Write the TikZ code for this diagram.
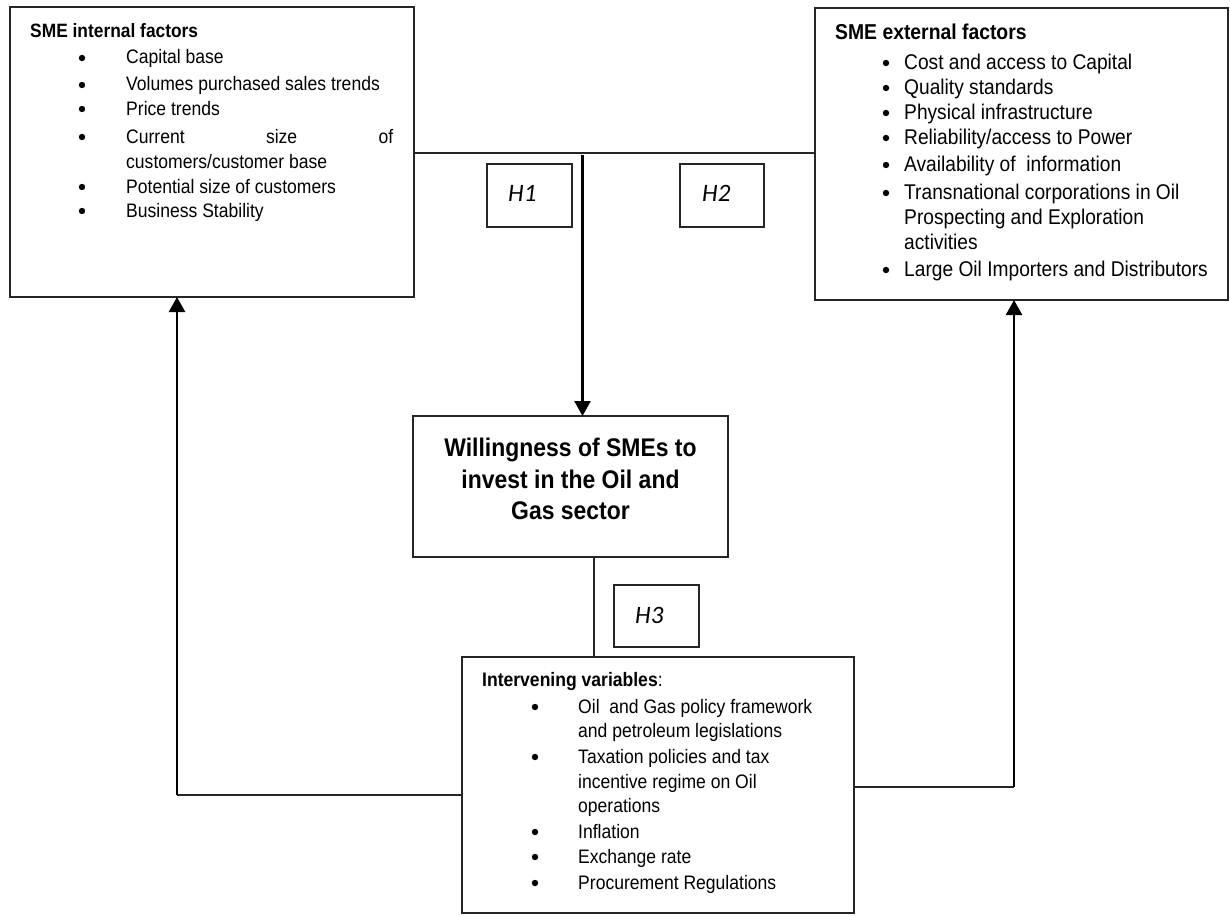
\documentclass[tikz,border=0pt]{standalone}
\usepackage{fontspec}
\setmainfont{Liberation Sans}[FakeStretch=0.9]
\newfontfamily\hfont{Carlito}
\usetikzlibrary{arrows.meta}
\begin{document}
\begin{tikzpicture}[x=1pt,y=-1pt,
  box/.style={draw=black!85, line width=1.3pt, inner sep=0pt, outer sep=0pt, anchor=north west, rectangle},
  ln/.style={draw=black!85, line width=1.3pt},
  arr/.style={draw=black, line width=2.4pt, -{Triangle[width=16pt,length=15pt]}},
  bul/.style={circle, fill=black, draw=none, inner sep=0pt, minimum size=6.4pt},
  tiA/.style={anchor=base west, inner sep=0pt, font=\fontsize{19.3}{23}\selectfont\bfseries},
  txA/.style={anchor=base west, inner sep=0pt, font=\fontsize{19.5}{23}\selectfont},
  tiB/.style={anchor=base west, inner sep=0pt, font=\fontsize{21.5}{25}\selectfont\bfseries},
  txB/.style={anchor=base west, inner sep=0pt, font=\fontsize{21.3}{25}\selectfont},
  hlab/.style={anchor=west, inner sep=0pt, font=\fontsize{25}{30}\hfont\itshape},
  main/.style={align=center, inner sep=0pt, font=\fontsize{25.5}{31.5}\selectfont\bfseries}
]
\useasboundingbox (0,0) rectangle (1230,915);

% boxes
\node[box, minimum width=404pt, minimum height=290pt] (int) at (10,7) {};
\node[box, minimum width=413pt, minimum height=292pt] (ext) at (815,8) {};
\node[box, minimum width=315pt, minimum height=141pt] (will) at (413,416) {};
\node[box, minimum width=392pt, minimum height=256pt] (intv) at (462,657) {};
\node[box, minimum width=85pt, minimum height=63pt] (h1) at (487,164) {};
\node[box, minimum width=84pt, minimum height=63pt] (h2) at (680,164) {};
\node[box, minimum width=85pt, minimum height=62pt] (h3) at (614,585) {};

% H labels
\node[hlab] (h1t) at (508,193) {H1};
\node[hlab] (h2t) at (702,193) {H2};
\node[hlab] (h3t) at (635,615) {H3};

% main box text
\node[main] (willt) at (570.5,479) {Willingness of SMEs to\\invest in the Oil and\\Gas sector};

% internal factors
\node[tiA] (it0) at (30,38) {SME internal factors};
\node[bul] (ib1) at (82,58) {};
\node[txA] (it1) at (126,64) {Capital base};
\node[bul] (ib2) at (82,85) {};
\node[txA] (it2) at (126,91) {Volumes purchased sales trends};
\node[bul] (ib3) at (82,109) {};
\node[txA] (it3) at (126,115) {Price trends};
\node[bul] (ib4) at (82,137) {};
\node[txA] (it4) at (126,143) {\makebox[267pt][s]{Current size of}};
\node[txA] (it5) at (126,168) {customers/customer base};
\node[bul] (ib6) at (82,187) {};
\node[txA] (it6) at (126,193) {Potential size of customers};
\node[bul] (ib7) at (82,211) {};
\node[txA] (it7) at (126,217) {Business Stability};

% external factors
\node[tiB] (et0) at (835,40) {SME external factors};
\node[bul] (eb1) at (886,63) {};
\node[txB] (et1) at (904,69.5) {Cost and access to Capital};
\node[bul] (eb2) at (886,88) {};
\node[txB] (et2) at (904,94.5) {Quality standards};
\node[bul] (eb3) at (886,113) {};
\node[txB] (et3) at (904,119.5) {Physical infrastructure};
\node[bul] (eb4) at (886,138) {};
\node[txB] (et4) at (904,144.5) {Reliability/access to Power};
\node[bul] (eb5) at (886,165) {};
\node[txB] (et5) at (904,171.5) {Availability of\ \ information};
\node[bul] (eb6) at (886,193) {};
\node[txB] (et6) at (904,199.5) {Transnational corporations in Oil};
\node[txB] (et7) at (904,224.5) {Prospecting and Exploration};
\node[txB] (et8) at (904,249.5) {activities};
\node[bul] (eb9) at (886,270) {};
\node[txB] (et9) at (904,276.5) {Large Oil Importers and Distributors};

% intervening variables
\node[txA] (vt0) at (482,686) {\textbf{Intervening variables}:};
\node[bul] (vb1) at (535,707) {};
\node[txA] (vt1) at (578,713) {Oil\ \ and Gas policy framework};
\node[txA] (vt2) at (578,737) {and petroleum legislations};
\node[bul] (vb3) at (535,757) {};
\node[txA] (vt3) at (578,763) {Taxation policies and tax};
\node[txA] (vt4) at (578,788) {incentive regime on Oil};
\node[txA] (vt5) at (578,812) {operations};
\node[bul] (vb6) at (535,832) {};
\node[txA] (vt6) at (578,838) {Inflation};
\node[bul] (vb7) at (535,857) {};
\node[txA] (vt7) at (578,863) {Exchange rate};
\node[bul] (vb8) at (535,883) {};
\node[txA] (vt8) at (578,889) {Procurement Regulations};

% connectors
\coordinate (tj) at (582.5,153);
\coordinate (ta) at (582.5,155);
\coordinate (mj) at (594,600);
\coordinate (lc) at (177,795);
\coordinate (rc) at (1014,787);

\draw[ln] (int.east |- tj) -- (ext.west |- tj);
\draw[arr] (ta) -- (ta |- will.north);
\draw[ln] (will.south -| mj) -- (intv.north -| mj);
\draw[ln] (intv.west |- lc) -- (lc);
\draw[arr] (lc) -- (int.south -| lc);
\draw[ln] (intv.east |- rc) -- (rc);
\draw[arr] (rc) -- (ext.south -| rc);
\end{tikzpicture}
\end{document}
